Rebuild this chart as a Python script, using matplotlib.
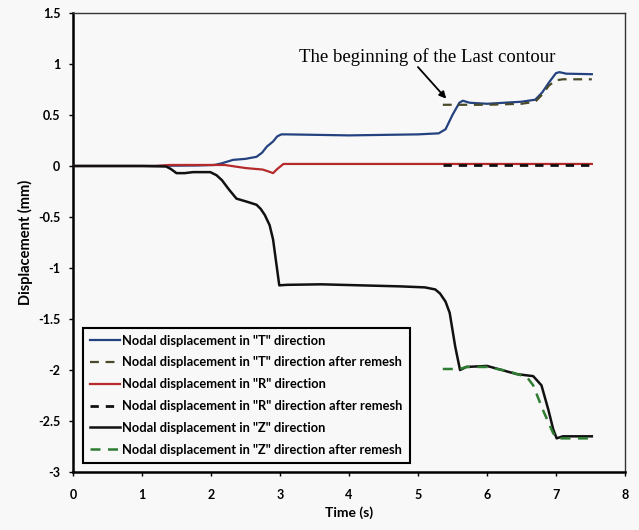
import matplotlib
matplotlib.use("Agg")
import matplotlib.pyplot as plt

# ----------------------------------------------------------------------------
# Values (time in s, displacement in mm).
# ----------------------------------------------------------------------------
t_T = [0, 1.0, 1.8, 2.05, 2.15, 2.32, 2.5, 2.66, 2.74, 2.81, 2.9, 2.96, 3.02, 3.1,
       4.0, 5.0, 5.3, 5.4, 5.5, 5.6, 5.65, 5.75, 6.0, 6.5, 6.7, 6.8, 6.9, 7.0,
       7.05, 7.15, 7.52]
disp_T = [0, 0, 0.005, 0.01, 0.025, 0.06, 0.07, 0.09, 0.13, 0.19, 0.24, 0.29, 0.31,
          0.31, 0.30, 0.31, 0.32, 0.36, 0.50, 0.62, 0.64, 0.62, 0.61, 0.63, 0.65,
          0.72, 0.82, 0.91, 0.92, 0.905, 0.90]

t_T_remesh = [5.36, 5.5, 5.6, 5.7, 6.0, 6.5, 6.7, 6.8, 6.9, 7.0, 7.1, 7.52]
disp_T_remesh = [0.60, 0.60, 0.60, 0.60, 0.60, 0.61, 0.63, 0.70, 0.79, 0.84, 0.85, 0.85]

t_R = [0, 1.2, 1.4, 2.2, 2.5, 2.75, 2.84, 2.9, 2.96, 3.05, 3.2, 7.52]
disp_R = [0, 0, 0.01, 0.01, -0.02, -0.035, -0.055, -0.07, -0.03, 0.02, 0.02, 0.02]

t_R_remesh = [5.36, 7.52]
disp_R_remesh = [0.01, 0.01]

t_Z = [0, 1.0, 1.35, 1.42, 1.5, 1.62, 1.74, 1.99, 2.08, 2.16, 2.26, 2.37, 2.52,
       2.66, 2.72, 2.78, 2.85, 2.9, 2.95, 2.99, 3.1, 3.6, 4.74, 5.1, 5.25, 5.32,
       5.4, 5.46, 5.54, 5.61, 5.7, 6.0, 6.43, 6.67, 6.79, 6.89, 6.96, 7.01, 7.1, 7.52]
disp_Z = [0, 0, -0.005, -0.03, -0.07, -0.07, -0.06, -0.06, -0.09, -0.14, -0.23,
          -0.32, -0.35, -0.38, -0.42, -0.48, -0.58, -0.72, -0.97, -1.17, -1.165,
          -1.16, -1.18, -1.19, -1.21, -1.25, -1.33, -1.44, -1.77, -2.00, -1.97,
          -1.96, -2.04, -2.06, -2.15, -2.39, -2.58, -2.67, -2.65, -2.65]

t_Z_remesh = [5.36, 5.61, 5.7, 6.0, 6.3, 6.58, 6.67, 6.81, 6.96, 7.03, 7.52]
disp_Z_remesh = [-1.99, -1.99, -1.97, -1.97, -2.01, -2.07, -2.15, -2.39, -2.62,
                 -2.67, -2.67]

x_ticks = [0, 1, 2, 3, 4, 5, 6, 7, 8]
y_ticks = [-3, -2.5, -2, -1.5, -1, -0.5, 0, 0.5, 1, 1.5]
y_tick_labels = ["-3", "-2.5", "-2", "-1.5", "-1", "-0.5", "0", "0.5", "1", "1.5"]

labels = [
    'Nodal displacement in "T" direction',
    'Nodal displacement in "T" direction after remesh',
    'Nodal displacement in "R" direction',
    'Nodal displacement in "R" direction after remesh',
    'Nodal displacement in "Z" direction',
    'Nodal displacement in "Z" direction after remesh',
]

note_text = "The beginning of the Last contour"
note_pos = (5.14, 1.07)      # centre of the note
arrow_tail = (5.0, 0.97)
arrow_tip = (5.41, 0.66)

BG = "#f8f8f8"
plt.rcParams["font.family"] = ["Lato", "DejaVu Sans"]

fig = plt.figure(figsize=(6.39, 5.30), dpi=100, facecolor=BG)
ax = fig.add_axes([0.1142, 0.1094, 0.8638, 0.8661], facecolor=BG)

ax.plot(t_T, disp_T, color="#24427f", lw=1.6, label=labels[0], zorder=3)
ax.plot(t_T_remesh, disp_T_remesh, color="#4a4a2a", lw=1.6, ls=(0, (4, 3)),
        label=labels[1], zorder=4)
ax.plot(t_R, disp_R, color="#b52a2a", lw=1.6, label=labels[2], zorder=3)
ax.plot(t_R_remesh, disp_R_remesh, color="#111111", lw=2.0, ls=(0, (3, 2.5)),
        label=labels[3], zorder=4)
ax.plot(t_Z, disp_Z, color="#111111", lw=1.8, label=labels[4], zorder=3)
ax.plot(t_Z_remesh, disp_Z_remesh, color="#2e7d32", lw=1.8, ls=(0, (4, 3)),
        label=labels[5], zorder=4)

ax.set_xlim(0, 8)
ax.set_ylim(-3, 1.5)
ax.set_xticks(x_ticks)
ax.set_yticks(y_ticks)
ax.set_yticklabels(y_tick_labels)
ax.tick_params(direction="out", length=3, width=1, labelsize=9, pad=6)
ax.tick_params(axis="x", pad=9)
for lab in ax.get_xticklabels() + ax.get_yticklabels():
    lab.set_fontweight("bold")

ax.set_xlabel("Time (s)", fontsize=10, fontweight="bold", labelpad=4)
ax.set_ylabel("Displacement (mm)", fontsize=10.5, fontweight="bold", labelpad=4)

for side in ("left", "bottom"):
    ax.spines[side].set_linewidth(1.8)
for side in ("top", "right"):
    ax.spines[side].set_linewidth(1.0)
    ax.spines[side].set_color("#333333")

ax.text(*note_pos, note_text, ha="center", va="center", fontsize=13.5,
        family="Liberation Serif")
ax.annotate("", xy=arrow_tip, xytext=arrow_tail,
            arrowprops=dict(arrowstyle="-|>", color="black", lw=1.3,
                            shrinkA=0, shrinkB=0, mutation_scale=10))

leg = ax.legend(loc="lower left", bbox_to_anchor=(0.018, 0.02), borderaxespad=0,
                fancybox=False, edgecolor="black", facecolor=BG, framealpha=1,
                prop=dict(family="Lato", weight="bold", size=9.3),
                handlelength=2.35, labelspacing=0.76, handletextpad=0.15,
                borderpad=0.55)
leg.get_frame().set_linewidth(1.5)

fig.savefig("out.png", dpi=100, facecolor=BG)
